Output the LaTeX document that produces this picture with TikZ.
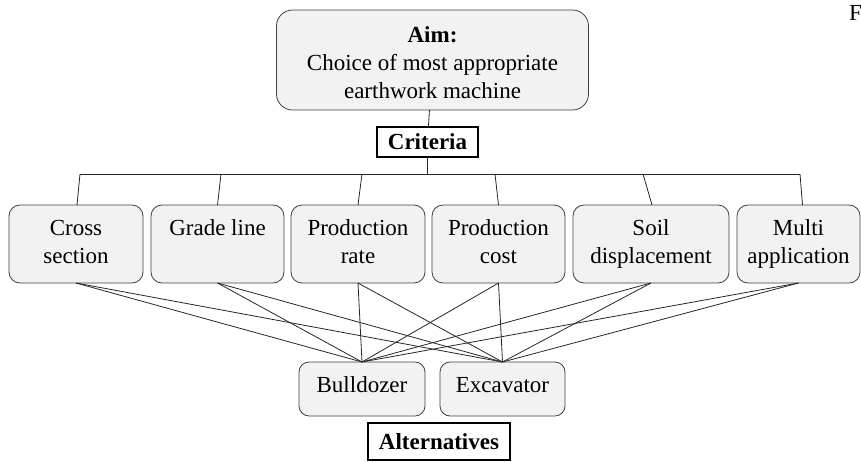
\documentclass[tikz,border=0pt]{standalone}
\usepackage{fontspec}
\setmainfont{Liberation Serif}
\begin{document}
\begin{tikzpicture}[x=1pt,y=-1pt,
  every node/.style={inner sep=0pt, outer sep=0pt},
  txt/.style={font=\fontsize{23}{28}\selectfont, align=center},
  goal/.style={txt, draw=black!75, fill=black!5, line width=0.8pt, rounded corners=16pt,
    minimum width=312pt, minimum height=100pt},
  crit/.style={txt, draw=black!75, fill=black!5, line width=0.8pt, rounded corners=11pt,
    minimum width=133pt, minimum height=78pt},
  alt/.style={font=\fontsize{23}{28}\selectfont, text height=17pt, text depth=11pt,
    draw=black!75, fill=black!5, line width=0.8pt, rounded corners=10pt,
    minimum width=125pt, minimum height=54pt},
  tag/.style={txt, draw=black, fill=white, line width=1.8pt, font=\fontsize{23}{28}\selectfont\bfseries},
  link/.style={draw=black!85, line width=0.8pt}]
\useasboundingbox (0,0) rectangle (861,461);

% aim and criteria label
\node[goal] (aim) at (432.5,60)
  {\rule{0pt}{29.6pt}\textbf{Aim:}\strut\\Choice of most appropriate\strut\\earthwork machine\strut};
\node[tag, minimum width=101pt, minimum height=30pt] (crit) at (427.5,142) {Criteria};

% criteria
\node[crit, minimum width=134pt] (c1) at (76,244) {Cross\strut\\section\strut};
\node[crit] (c2) at (217.5,244) {Grade line\strut\\\strut};
\node[crit, minimum width=134pt] (c3) at (358,244) {Production\strut\\rate\strut};
\node[crit] (c4) at (498.5,244) {Production\strut\\cost\strut};
\node[crit, minimum width=156pt] (c5) at (651,244) {Soil\strut\\displacement\strut};
\node[crit, minimum width=123pt] (c6) at (798.5,244) {Multi\strut\\application\strut};

% alternatives
\node[alt, minimum width=126pt] (bull) at (362,389) {Bulldozer};
\node[alt] (exc) at (502.5,389) {Excavator};
\node[tag, minimum width=142pt, minimum height=37pt] (alts) at (439,441.5) {Alternatives};

% partial caption letter at the top right
\node[txt, anchor=base west] (cap) at (849,20) {F};

% bus of the hierarchy
\coordinate (hub) at (427.5,174);
\coordinate (b1) at (80,174);
\coordinate (b2) at (221,174);
\coordinate (b3) at (362,174);
\coordinate (b4) at (495,174);
\coordinate (b5) at (643,174);
\coordinate (b6) at (800,174);

\draw[link] (aim) -- (crit);
\draw[link] (crit) -- (hub);
\draw[link] (b1) -- (b6);
\draw[link] (b1) -- ([xshift=1pt]c1.north);
\draw[link] (b2) -- (c2.north);
\draw[link] (b3) -- (c3.north);
\draw[link] (b4) -- (c4.north);
\draw[link] (b5) -- ([xshift=1pt]c5.north);
\draw[link] (b6) -- ([xshift=4pt]c6.north);

% every criterion feeds both alternatives
\foreach \c in {c1,c2,c3,c4,c5,c6}{
  \draw[link] (\c.south) -- (bull.north);
  \draw[link] (\c.south) -- (exc.north);
}
\end{tikzpicture}
\end{document}
